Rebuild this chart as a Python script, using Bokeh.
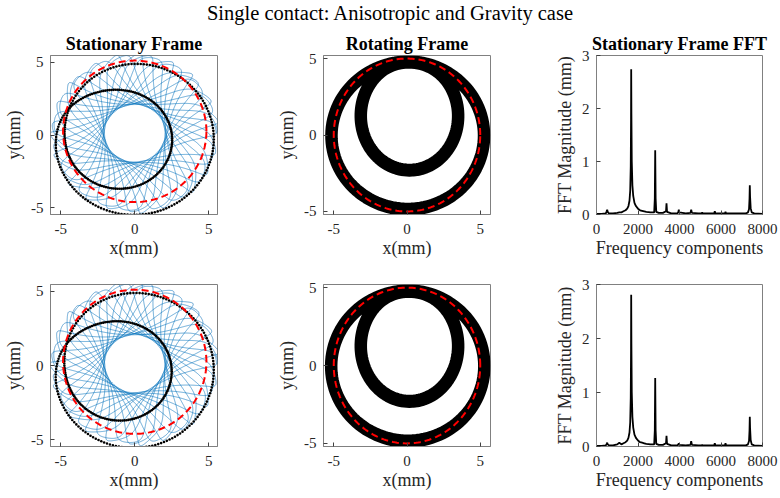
import numpy as np
from bokeh.plotting import figure
from bokeh.layouts import column, row
from bokeh.models import Div, Range1d, FixedTicker
from bokeh.embed import file_html
from bokeh.resources import INLINE

FONT = "Liberation Serif"

# ------------------------------------------------------------------ data
suptitle = "Single contact: Anisotropic and Gravity case"
panel_titles = ["Stationary Frame", "Rotating Frame", "Stationary Frame FFT"]

# whirl components read from the FFT peaks (frequency index) and orbit sizes (mm)
whirl_freq_fwd = 1680.0
whirl_freq_bwd = 2868.0
rotor_freq = 7400.0
whirl_amp_fwd = [4.00, 4.02]      # top row, bottom row
whirl_amp_bwd = [1.70, 1.72]
whirl_amp_sync = [0.30, 0.32]
stiff_aniso = [0.02, 0.02]
gravity_sag = [0.12, 0.12]
record_length = 0.01

# black double-loop orbits: [cx, cy, rx, ry] of the outer and inner loop
stat_loop_outer = [[-0.07, -0.26, 5.42, 5.22], [-0.10, -0.30, 5.45, 5.25]]
stat_loop_inner = [[-1.02, -0.34, 3.55, 3.34], [-1.00, -0.40, 3.50, 3.30]]
stat_loop_join_deg = [150.0, 155.0]
rot_loop_outer = [[0.05, 0.0, 5.23, 4.85], [0.05, 0.0, 5.25, 4.85]]
rot_loop_inner = [[0.17, 1.20, 3.30, 3.50], [0.17, 1.20, 3.30, 3.50]]
rot_loop_join_deg = [90.0, 90.0]
rot_band_halfwidth = [0.36, 0.36]

# clearance circles [cx, cy, r]
clearance_stat = [0.0, 0.25, 4.85]
clearance_rot = [0.0, 0.0, 5.0]

# FFT spectra (frequency component, magnitude in mm)
fft_freq = [0, 250, 450, 490, 515, 540, 600, 800, 1000, 1100,
            1200, 1300, 1400, 1480, 1540, 1590, 1625, 1650, 1665, 1672,
            1682, 1700, 1730, 1770, 1830, 1900, 2000, 2100, 2200, 2300,
            2400, 2600, 2780, 2810, 2829, 2850, 2880, 3000, 3200, 3350,
            3374, 3400, 3600, 3900, 3945, 3967, 3990, 4300, 4530, 4563,
            4600, 4900, 5070, 5094, 5120, 5500, 5670, 5701, 5730, 6000,
            6190, 6217, 6245, 6600, 7000, 7200, 7300, 7350, 7375, 7388,
            7400, 7430, 7480, 7600, 8000]
fft_mag_top = [0.01, 0.01, 0.02, 0.06, 0.09, 0.05, 0.02, 0.02, 0.03, 0.04,
               0.04, 0.06, 0.08, 0.11, 0.16, 0.26, 0.45, 0.9, 1.8, 2.74,
               1.9, 1.0, 0.55, 0.35, 0.22, 0.16, 0.11, 0.08, 0.07, 0.06,
               0.05, 0.04, 0.04, 0.3, 1.21, 0.3, 0.05, 0.03, 0.03, 0.06,
               0.21, 0.05, 0.02, 0.02, 0.05, 0.09, 0.04, 0.02, 0.03, 0.09,
               0.03, 0.02, 0.02, 0.04, 0.02, 0.02, 0.02, 0.06, 0.02, 0.02,
               0.02, 0.05, 0.02, 0.02, 0.02, 0.02, 0.04, 0.1, 0.3, 0.55,
               0.35, 0.12, 0.04, 0.02, 0.01]
fft_mag_bot = [0.01, 0.01, 0.02, 0.05, 0.07, 0.04, 0.02, 0.02, 0.04, 0.07,
               0.04, 0.06, 0.08, 0.11, 0.16, 0.26, 0.45, 0.9, 1.8, 2.81,
               1.9, 1.0, 0.55, 0.35, 0.22, 0.16, 0.11, 0.08, 0.07, 0.06,
               0.05, 0.04, 0.04, 0.3, 1.27, 0.3, 0.05, 0.03, 0.03, 0.06,
               0.20, 0.05, 0.02, 0.02, 0.04, 0.06, 0.03, 0.02, 0.03, 0.10,
               0.03, 0.02, 0.02, 0.03, 0.02, 0.02, 0.02, 0.06, 0.02, 0.02,
               0.02, 0.06, 0.02, 0.02, 0.02, 0.02, 0.04, 0.1, 0.3, 0.55,
               0.35, 0.12, 0.04, 0.02, 0.01]

orbit_ticks = [-5, 0, 5]
fft_xticks = [0, 2000, 4000, 6000, 8000]
fft_yticks = [0, 1, 2, 3]


# ------------------------------------------------------------------ helpers
def whirl_orbit(r):
    t = np.linspace(0.0, record_length, 20000)
    z = (whirl_amp_fwd[r] * np.exp(2j * np.pi * whirl_freq_fwd * t)
         + whirl_amp_bwd[r] * np.exp(-2j * np.pi * whirl_freq_bwd * t)
         - whirl_amp_sync[r] * np.exp(-2j * np.pi * rotor_freq * t))
    e = stiff_aniso[r]
    return z.real * (1 + e), z.imag * (1 - e) + gravity_sag[r]


def double_loop(outer, inner, join_deg, n, turns=1, band=0.0):
    u = np.linspace(0.0, 2 * np.pi * turns, n * turns, endpoint=False)
    s = 0.5 + 0.5 * np.tanh(3.0 * np.sin(u)) / np.tanh(3.0)
    ang = np.deg2rad(join_deg) + 2 * u
    cx = s * outer[0] + (1 - s) * inner[0]
    cy = s * outer[1] + (1 - s) * inner[1]
    rx = s * outer[2] + (1 - s) * inner[2]
    ry = s * outer[3] + (1 - s) * inner[3]
    x = cx + rx * np.cos(ang) + band * np.cos(1.63 * u)
    y = cy + ry * np.sin(ang) + band * np.sin(1.63 * u)
    return x, y


def circle(c):
    a = np.linspace(0, 2 * np.pi, 240)
    return c[0] + c[2] * np.cos(a), c[1] + c[2] * np.sin(a)


def style(p, xticks, yticks, xlabel, ylabel):
    p.xaxis.ticker = FixedTicker(ticks=xticks)
    p.yaxis.ticker = FixedTicker(ticks=yticks)
    p.xaxis.major_label_overrides = {v: str(v) for v in xticks}
    p.yaxis.major_label_overrides = {v: str(v) for v in yticks}
    p.xaxis.axis_label = xlabel
    p.yaxis.axis_label = ylabel
    for ax in (p.xaxis[0], p.yaxis[0]):
        ax.major_tick_in = 4
        ax.major_tick_out = 0
        ax.minor_tick_in = 0
        ax.minor_tick_out = 0
        ax.axis_line_color = "#808080"
        ax.major_tick_line_color = "#404040"
        ax.major_label_text_font = FONT
        ax.major_label_text_font_size = "15px"
        ax.major_label_text_color = "#262626"
        ax.axis_label_text_font = FONT
        ax.axis_label_text_font_size = "18px"
        ax.axis_label_text_font_style = "normal"
        ax.axis_label_text_color = "#262626"
    p.xaxis.major_label_standoff = 9
    p.yaxis.major_label_standoff = 7
    p.xaxis.axis_label_standoff = 1
    p.yaxis.axis_label_standoff = 4
    p.outline_line_color = "#808080"
    p.grid.visible = False
    p.background_fill_color = "white"
    p.border_fill_color = "white"


def make_fig(r, c, xr, yr):
    widths = [260, 273, 247]
    lefts = [50, 63, 63]
    rights = [43, 43, 18]
    heights = [232, 236]
    tops = [23, 22]
    bottoms = [48, 52]
    p = figure(width=widths[c], height=heights[r],
               x_range=Range1d(*xr), y_range=Range1d(*yr),
               output_backend="svg", toolbar_location=None,
               min_border_left=lefts[c], min_border_right=rights[c],
               min_border_top=tops[r], min_border_bottom=bottoms[r],
               title=panel_titles[c] if r == 0 else None)
    if r == 0:
        p.title.text_font = FONT
        p.title.text_font_size = "18px"
        p.title.text_font_style = "bold"
        p.title.align = "center"
        p.title.standoff = 3
        p.title.text_color = "black"
    return p


rows = []
for r in range(2):
    # stationary frame
    p1 = make_fig(r, 0, (-5.7, 5.6), (-5.45, 5.45))
    bx, by = whirl_orbit(r)
    p1.line(bx, by, line_color="#0072BD", line_width=0.7, line_alpha=0.85)
    kx, ky = double_loop(stat_loop_outer[r], stat_loop_inner[r], stat_loop_join_deg[r], 330)
    p1.scatter(kx, ky, size=2.6, fill_color="black", line_color=None)
    cx, cy = circle(clearance_stat)
    p1.line(cx, cy, line_color="#FF0000", line_width=2, line_dash="7 4")
    style(p1, orbit_ticks, orbit_ticks, "x(mm)", "y(mm)")

    # rotating frame
    p2 = make_fig(r, 1, (-5.7, 5.7), (-5.2, 5.2))
    wx, wy = double_loop(rot_loop_outer[r], rot_loop_inner[r], rot_loop_join_deg[r], 240,
                         turns=45, band=rot_band_halfwidth[r])
    p2.line(wx, wy, line_color="black", line_width=2.0)
    cx, cy = circle(clearance_rot)
    p2.line(cx, cy, line_color="#FF0000", line_width=2, line_dash="7 4")
    style(p2, orbit_ticks, orbit_ticks, "x(mm)", "y(mm)")

    # FFT
    p3 = make_fig(r, 2, (0, 8000), (0, 3))
    mags = fft_mag_top if r == 0 else fft_mag_bot
    p3.line(fft_freq, mags, line_color="black", line_width=1.8)
    style(p3, fft_xticks, fft_yticks, "Frequency components", "FFT Magnitude (mm)")
    rows.append(row(p1, p2, p3, spacing=0))

head = Div(text=suptitle, width=780, height=30, margin=0,
           styles={"text-align": "center", "font-family": FONT, "font-size": "20.5px",
                   "line-height": "26px", "color": "black", "width": "780px"})

layout = column(head, rows[0], rows[1], spacing=0)

with open("out.html", "w") as f:
    f.write(file_html(layout, INLINE, title="Single contact"))
